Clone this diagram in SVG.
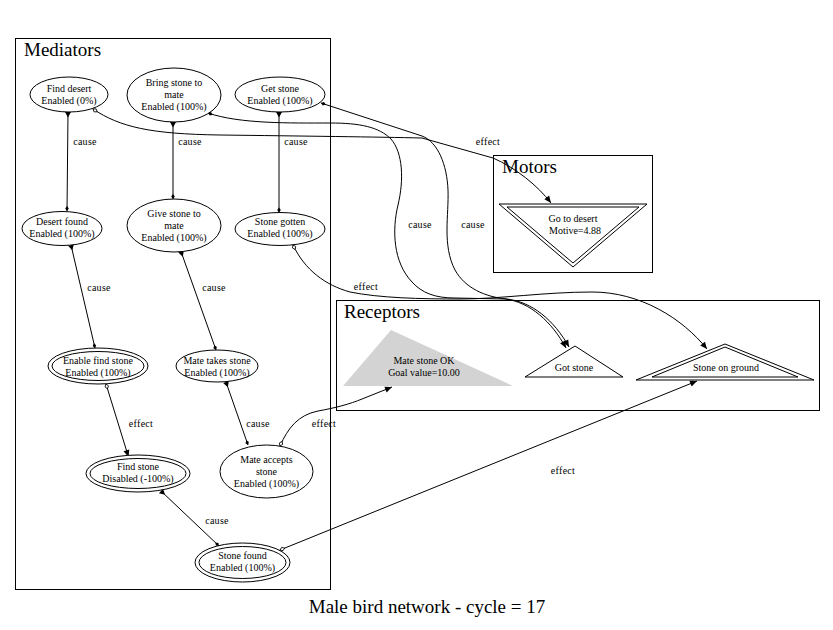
<svg xmlns="http://www.w3.org/2000/svg" width="833" height="630" viewBox="0 0 833 630">
<style>
.bg{fill:#ffffff}
.box{fill:none;stroke:#000;stroke-width:1}
.title{font-family:"Liberation Serif","Times New Roman",serif;font-size:19px;fill:#000}
.caption{font-family:"Liberation Serif","Times New Roman",serif;font-size:19px;fill:#000;text-anchor:middle}
.n{fill:#fff;stroke:#000;stroke-width:1}
.t{font-family:"Liberation Serif","Times New Roman",serif;font-size:10px;fill:#000;text-anchor:middle}
.e{fill:none;stroke:#000;stroke-width:1}
.lbl{font-family:"Liberation Serif","Times New Roman",serif;font-size:10px;fill:#000;text-anchor:middle;letter-spacing:0.3px}
.cause{marker-start:url(#tri);marker-end:url(#dia)}
.effect{marker-start:url(#odia);marker-end:url(#arr)}
.xcause{marker-start:url(#diaS);marker-end:url(#arr)}
</style>
<defs>
<marker id="tri" viewBox="-1 -4 8 8" refX="0" refY="0" markerWidth="8" markerHeight="8" orient="auto" markerUnits="userSpaceOnUse"><path d="M0,-3 L5.5,0 L0,3 z" fill="#000"/></marker>
<marker id="arr" viewBox="-8 -4 9 8" refX="0" refY="0" markerWidth="9" markerHeight="8" orient="auto" markerUnits="userSpaceOnUse"><path d="M-7,-3 L0,0 L-7,3 z" fill="#000"/></marker>
<marker id="dia" viewBox="-6 -3 7 6" refX="0" refY="0" markerWidth="7" markerHeight="6" orient="auto" markerUnits="userSpaceOnUse"><path d="M-5,0 L-2.5,-1.8 L0,0 L-2.5,1.8 z" fill="#000"/></marker>
<marker id="diaS" viewBox="-1 -3 7 6" refX="0" refY="0" markerWidth="7" markerHeight="6" orient="auto" markerUnits="userSpaceOnUse"><path d="M0,0 L2.5,-1.8 L5,0 L2.5,1.8 z" fill="#000"/></marker>
<marker id="odia" viewBox="-1 -3 8 6" refX="0" refY="0" markerWidth="8" markerHeight="6" orient="auto" markerUnits="userSpaceOnUse"><path d="M0,0 L2.5,-1.8 L5,0 L2.5,1.8 z" fill="#fff" stroke="#000" stroke-width="0.8"/></marker>
</defs>
<rect class="bg" x="0" y="0" width="833" height="630"/>

<g id="clusters">
<rect class="box" x="15.5" y="38.5" width="315" height="551"/>
<text class="title" x="24" y="56">Mediators</text>
<rect class="box" x="493.5" y="155.5" width="159" height="117"/>
<text class="title" x="502" y="173">Motors</text>
<rect class="box" x="336.5" y="300.5" width="483" height="110"/>
<text class="title" x="344" y="318">Receptors</text>
</g>

<g id="connectors">
<path class="e cause" d="M68,112 L67,211"/>
<path class="e cause" d="M173,122 L173,199"/>
<path class="e cause" d="M279,112 L279,212.5"/>
<path class="e cause" d="M71,245 L95,348"/>
<path class="e cause" d="M181,251.5 L216,350"/>
<path class="e cause" d="M226,382 L248,445"/>
<path class="e cause" d="M161,491 L219,546"/>
<path class="e effect" d="M106,384 L128.5,457"/>
<path class="e effect" d="M280,446 C288,428 298,415 318,411 C335,408 350,404 362,399 L392,387"/>
<path class="e effect" d="M280,550 L697,381"/>
<path class="e effect" d="M293,245 C305,270 325,285 350,292 C380,298 420,299 460,299 C500,299 545,292 592,292 C640,292 682,318 707,349"/>
<path class="e effect" d="M93,109 C120,127 150,134 220,135 C300,136 380,137 422,138 L493,158 C516,168 538,186 551,203"/>
<path class="e xcause" d="M208,113 C240,124 290,123 330,123 C360,123 379,127 391,139 C403,153 404,180 398,205 C392,230 393,262 412,282 C422,293 435,298 455,298 L505,299 C530,302 552,322 566,348"/>
<path class="e xcause" d="M321,103 L422,136 C438,142 447,165 448,190 C449,215 442,245 455,270 C465,288 485,297 507,299 C532,302 554,320 569,347"/>
<text class="lbl" x="85" y="145">cause</text>
<text class="lbl" x="190" y="145">cause</text>
<text class="lbl" x="296" y="145">cause</text>
<text class="lbl" x="99" y="291">cause</text>
<text class="lbl" x="214" y="291">cause</text>
<text class="lbl" x="258" y="427">cause</text>
<text class="lbl" x="217" y="524">cause</text>
<text class="lbl" x="141" y="427">effect</text>
<text class="lbl" x="324" y="427">effect</text>
<text class="lbl" x="563" y="474">effect</text>
<text class="lbl" x="366" y="290">effect</text>
<text class="lbl" x="488" y="145">effect</text>
<text class="lbl" x="420" y="228">cause</text>
<text class="lbl" x="473" y="228">cause</text>
</g>

<g id="find-desert">
<ellipse class="n" cx="69" cy="94.5" rx="39" ry="17.5"/>
<text class="t" x="69" y="92">Find desert</text>
<text class="t" x="69" y="104">Enabled (0%)</text>
</g>
<g id="bring-stone">
<ellipse class="n" cx="174" cy="95" rx="47" ry="27"/>
<text class="t" x="174" y="86">Bring stone to</text>
<text class="t" x="174" y="98">mate</text>
<text class="t" x="174" y="110">Enabled (100%)</text>
</g>
<g id="get-stone">
<ellipse class="n" cx="280" cy="94.5" rx="45" ry="17.5"/>
<text class="t" x="280" y="92">Get stone</text>
<text class="t" x="280" y="104">Enabled (100%)</text>
</g>
<g id="desert-found">
<ellipse class="n" cx="62" cy="228.5" rx="40" ry="17"/>
<text class="t" x="62" y="225">Desert found</text>
<text class="t" x="62" y="237">Enabled (100%)</text>
</g>
<g id="give-stone">
<ellipse class="n" cx="174" cy="225.5" rx="47" ry="26.5"/>
<text class="t" x="174" y="217">Give stone to</text>
<text class="t" x="174" y="229">mate</text>
<text class="t" x="174" y="241">Enabled (100%)</text>
</g>
<g id="stone-gotten">
<ellipse class="n" cx="280" cy="229" rx="45" ry="16.5"/>
<text class="t" x="280" y="225">Stone gotten</text>
<text class="t" x="280" y="237">Enabled (100%)</text>
</g>
<g id="enable-find-stone">
<ellipse class="n" cx="98" cy="366" rx="50" ry="18"/>
<ellipse class="n" cx="98" cy="366" rx="46" ry="14.5"/>
<text class="t" x="98" y="364">Enable find stone</text>
<text class="t" x="98" y="376">Enabled (100%)</text>
</g>
<g id="mate-takes-stone">
<ellipse class="n" cx="217" cy="366" rx="41" ry="16"/>
<text class="t" x="217" y="364">Mate takes stone</text>
<text class="t" x="217" y="376">Enabled (100%)</text>
</g>
<g id="find-stone">
<ellipse class="n" cx="138" cy="473.5" rx="52" ry="18.5"/>
<ellipse class="n" cx="138" cy="473.5" rx="48" ry="15"/>
<text class="t" x="138" y="470">Find stone</text>
<text class="t" x="138" y="482">Disabled (-100%)</text>
</g>
<g id="mate-accepts-stone">
<ellipse class="n" cx="266.5" cy="471.5" rx="46.5" ry="26.5"/>
<text class="t" x="266.5" y="463">Mate accepts</text>
<text class="t" x="266.5" y="475">stone</text>
<text class="t" x="266.5" y="487">Enabled (100%)</text>
</g>
<g id="stone-found">
<ellipse class="n" cx="242.5" cy="562.5" rx="47.5" ry="19.5"/>
<ellipse class="n" cx="242.5" cy="562.5" rx="43.5" ry="16"/>
<text class="t" x="242.5" y="559">Stone found</text>
<text class="t" x="242.5" y="571">Enabled (100%)</text>
</g>
<g id="go-to-desert">
<polygon class="n" points="499,204 647,204 573,267"/>
<polygon class="n" points="507,207 639,207 573,263"/>
<text class="t" x="573" y="222">Go to desert</text>
<text class="t" x="575" y="234">Motive=4.88</text>
</g>
<g id="mate-stone-ok">
<polygon points="391,330 343,386 513,386" fill="#d3d3d3"/>
<text class="t" x="424" y="364">Mate stone OK</text>
<text class="t" x="424" y="376">Goal value=10.00</text>
</g>
<g id="got-stone">
<polygon class="n" points="575,346 525,377 623,377"/>
<text class="t" x="574" y="371">Got stone</text>
</g>
<g id="stone-on-ground">
<polygon class="n" points="725,344 636,380 814,380"/>
<polygon class="n" points="725,347 652,377 798,377"/>
<text class="t" x="726" y="371">Stone on ground</text>
</g>

<text class="caption" x="427" y="613">Male bird network - cycle = 17</text>
</svg>
